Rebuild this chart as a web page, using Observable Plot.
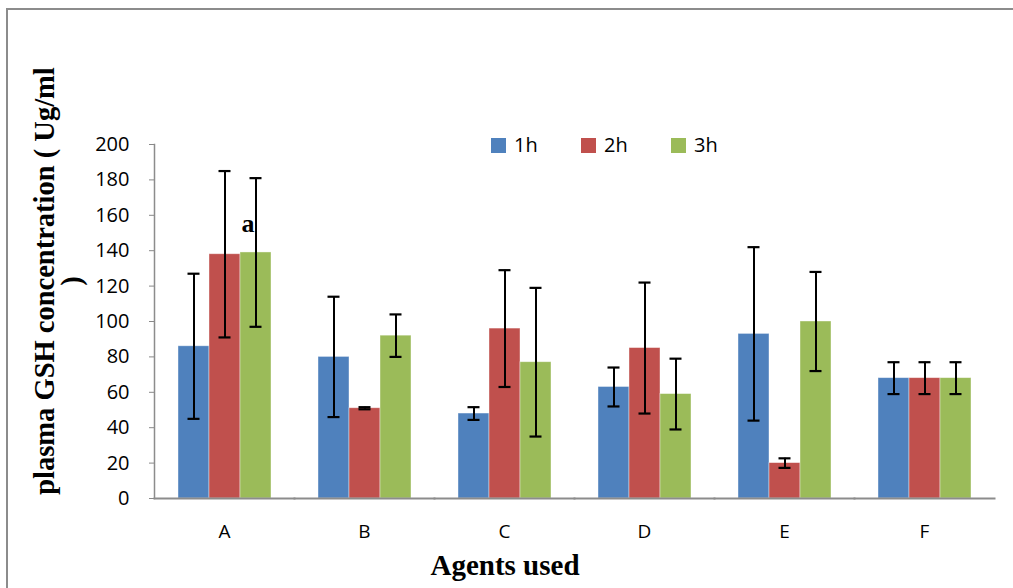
<!DOCTYPE html>
<html><head><meta charset="utf-8">
<script src="https://cdn.jsdelivr.net/npm/d3@7"></script>
<script src="https://cdn.jsdelivr.net/npm/@observablehq/plot@0.6"></script>
<style>
body{margin:0;width:1013px;height:588px;overflow:hidden;background:#fff;position:relative;font-family:"Open Sans",sans-serif;color:#000}
#border{position:absolute;left:6px;top:8px;width:1100px;height:700px;border:2px solid #8c8c8c;}
#chart{position:absolute;left:0;top:0}
#legend{position:absolute;left:491px;top:133px;display:flex;font-size:20px;line-height:24px}
#legend .item{display:flex;align-items:center;margin-right:0}
#legend .sw{width:15px;height:15px;margin-right:8px}
#ylabel{position:absolute;left:58px;top:281px;width:560px;transform:translate(-50%,-50%) rotate(-90deg);text-align:center;font-family:"Liberation Serif",serif;font-weight:bold;font-size:28.5px;line-height:27px;white-space:nowrap}
#xlabel{position:absolute;left:505px;top:565px;transform:translate(-50%,-50%);font-family:"Liberation Serif",serif;font-weight:bold;font-size:29px;white-space:nowrap}
</style></head>
<body>
<div id="border"></div>
<div id="chart"></div>
<div id="legend"></div>
<div id="ylabel">plasma GSH concentration ( Ug/ml<br>)</div>
<div id="xlabel">Agents used</div>
<script>
const agents = ["A","B","C","D","E","F"];
const series = ["1h","2h","3h"];
const colors = ["#4F81BD","#C0504D","#9BBB59"];
const mean1h = [86,80,48,63,93,68];
const mean2h = [138,51,96,85,20,68];
const mean3h = [139,92,77,59,100,68];
const err1h = [41,34,3.6,11,49,9];
const err2h = [47,0.6,33,37,2.7,9];
const err3h = [42,12,42,20,28,9];
const yTicks = [0,20,40,60,80,100,120,140,160,180,200];
const annoAgent = ["A"];
const annoSeries = ["3h"];
const annoValue = [155];
const annoText = ["a"];

const means = [mean1h, mean2h, mean3h];
const errs = [err1h, err2h, err3h];
const rows = [];
agents.forEach((a, i) => series.forEach((s, j) => {
  const v = means[j][i], e = errs[j][i];
  rows.push({agent: a, series: s, value: v, lo: v - e, hi: v + e});
}));
const annos = annoAgent.map((a, i) => ({agent: a, series: annoSeries[i], value: annoValue[i], label: annoText[i]}));

const plot = Plot.plot({
  width: 1013, height: 588,
  marginTop: 144, marginBottom: 90, marginLeft: 154, marginRight: 19,
  style: {background: "transparent", color: "#000"},
  fx: {domain: agents, padding: 0, label: null},
  x: {domain: series, paddingInner: 0, paddingOuter: 0.758, axis: null},
  y: {domain: [0, 200], label: null},
  color: {domain: series, range: colors},
  marks: [
    Plot.barY(rows, {fx: "agent", x: "series", y: "value", fill: "series", stroke: "white", strokeOpacity: 0.5, strokeWidth: 0.8}),
    Plot.ruleX(rows, {fx: "agent", x: "series", y1: "lo", y2: "hi", stroke: "black", strokeWidth: 2}),
    Plot.tickY(rows, {fx: "agent", x: "series", y: "hi", insetLeft: 9.5, insetRight: 9.5, stroke: "black", strokeWidth: 2.2}),
    Plot.tickY(rows, {fx: "agent", x: "series", y: "lo", insetLeft: 9.5, insetRight: 9.5, stroke: "black", strokeWidth: 2.2}),
    Plot.text(annos, {fx: "agent", x: "series", y: "value", text: "label", dx: -8, fontFamily: "Liberation Serif", fontWeight: "bold", fontSize: 26, fill: "black"}),
    Plot.axisY({ticks: yTicks, tickSize: 5, tickPadding: 20, stroke: "#888", fill: "black", fontSize: 20, fontFamily: "Open Sans", label: null}),
    Plot.axisFx({anchor: "bottom", tickSize: 0, tickPadding: 26, fontSize: 19, fontFamily: "Open Sans", fill: "black", label: null}),
    Plot.frame({anchor: "bottom", stroke: "#8c8c8c", strokeWidth: 2}),
    Plot.frame({anchor: "left", facet: "super", stroke: "#8c8c8c", strokeWidth: 1.5})
  ]
});
document.getElementById("chart").appendChild(plot);

const leg = document.getElementById("legend");
const gaps = [90, 90, 0];
series.forEach((s, j) => {
  const it = document.createElement("div");
  it.className = "item";
  it.style.width = gaps[j] ? gaps[j] + "px" : "auto";
  it.innerHTML = `<span class="sw" style="background:${colors[j]}"></span><span>${s}</span>`;
  leg.appendChild(it);
});
</script>
</body></html>
